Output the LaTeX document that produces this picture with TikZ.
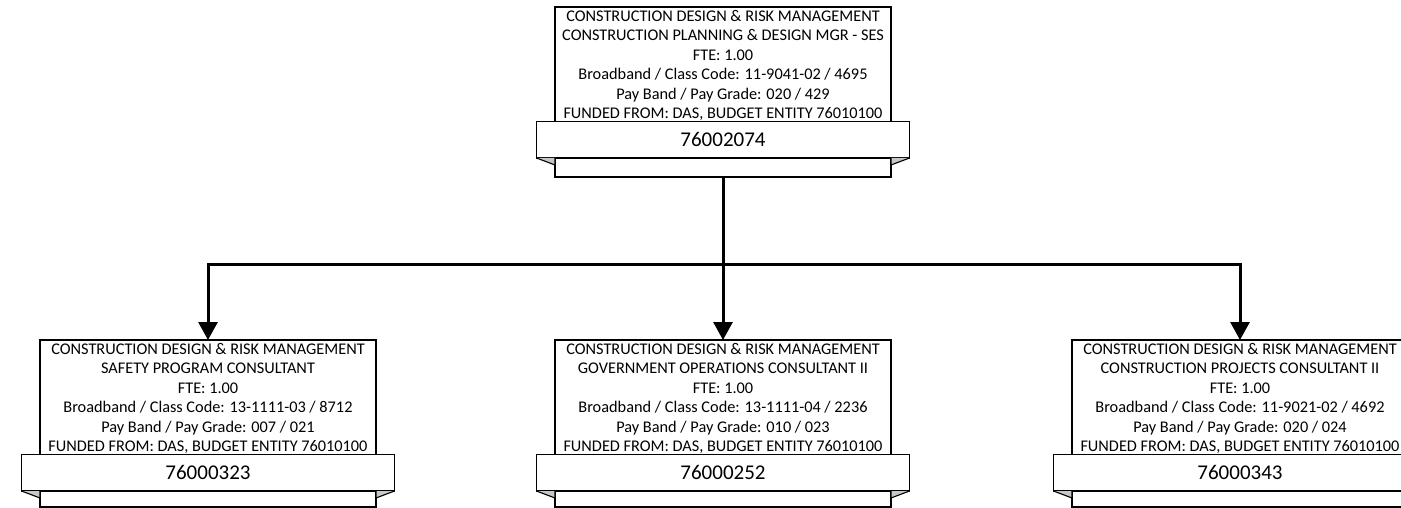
\documentclass[tikz,border=0pt]{standalone}
\usepackage{fontspec}
\setmainfont{Carlito}
\usetikzlibrary{arrows.meta,calc}

\tikzset{
  posbox/.style={draw, line width=1.1pt, fill=white, anchor=north west,
    minimum width=336pt, inner sep=0pt, outer sep=0pt},
  postext/.style={anchor=north, align=center, inner sep=0pt, outer sep=0pt,
    font=\fontsize{16.3}{19.5}\selectfont},
  banner/.style={draw, line width=1.8pt, fill=white, minimum width=373pt,
    minimum height=36.5pt, inner sep=0pt, outer sep=0pt,
    font=\fontsize{21}{24}\selectfont},
  fold/.style={draw, line width=1.1pt, fill=black!22, line join=miter},
  link/.style={line width=3pt},
  linkarrow/.style={line width=3pt, -{Triangle[width=19pt,length=18pt]}},
}

% \orgpos{name}{left x}{top y}{box height}{description lines}{position number}
\newcommand\orgpos[6]{%
  \node[posbox, minimum height=#4pt] (#1) at (#2,#3) {};
  \node[postext] (#1-txt) at ($(#1.north)+(0,3)$) {#5};
  \node[banner] (#1-id) at ($(#1.north)+(0,132.75)$) {#6};
  \draw[fold] (#1-id.south west) -- ($(#1.west |- #1-id.south)+(0,7)$)
    -- (#1.west |- #1-id.south);
  \draw[fold] (#1-id.south east) -- ($(#1.east |- #1-id.south)+(0,7)$)
    -- (#1.east |- #1-id.south);
}

\begin{document}
\begin{tikzpicture}[x=1pt, y=-1pt]
  \useasboundingbox (0,0) rectangle (1401,508);
  \clip (0,0) rectangle (1401,508);

  \orgpos{mgr}{555}{7}{170}{CONSTRUCTION DESIGN \& RISK MANAGEMENT\\
    CONSTRUCTION PLANNING \& DESIGN MGR - SES\\FTE: 1.00\\
    Broadband / Class Code: 11-9041-02 / 4695\\Pay Band / Pay Grade: 020 / 429\\
    FUNDED FROM: DAS, BUDGET ENTITY 76010100}{76002074}

  \orgpos{safety}{40}{340}{167}{CONSTRUCTION DESIGN \& RISK MANAGEMENT\\
    SAFETY PROGRAM CONSULTANT\\FTE: 1.00\\
    Broadband / Class Code: 13-1111-03 / 8712\\Pay Band / Pay Grade: 007 / 021\\
    FUNDED FROM: DAS, BUDGET ENTITY 76010100}{76000323}

  \orgpos{govops}{555}{340}{167}{CONSTRUCTION DESIGN \& RISK MANAGEMENT\\
    GOVERNMENT OPERATIONS CONSULTANT II\\FTE: 1.00\\
    Broadband / Class Code: 13-1111-04 / 2236\\Pay Band / Pay Grade: 010 / 023\\
    FUNDED FROM: DAS, BUDGET ENTITY 76010100}{76000252}

  \orgpos{projects}{1072}{340}{167}{CONSTRUCTION DESIGN \& RISK MANAGEMENT\\
    CONSTRUCTION PROJECTS CONSULTANT II\\FTE: 1.00\\
    Broadband / Class Code: 11-9021-02 / 4692\\Pay Band / Pay Grade: 020 / 024\\
    FUNDED FROM: DAS, BUDGET ENTITY 76010100}{76000343}

  % reporting lines through a common horizontal bus
  \coordinate (bus) at ($(mgr.south)+(0,87)$);
  \draw[linkarrow] (mgr.south) -- (mgr.south |- bus) -| (safety.north);
  \draw[linkarrow] (mgr.south) -- (govops.north);
  \draw[linkarrow] (mgr.south) -- (mgr.south |- bus) -| (projects.north);
\end{tikzpicture}
\end{document}
